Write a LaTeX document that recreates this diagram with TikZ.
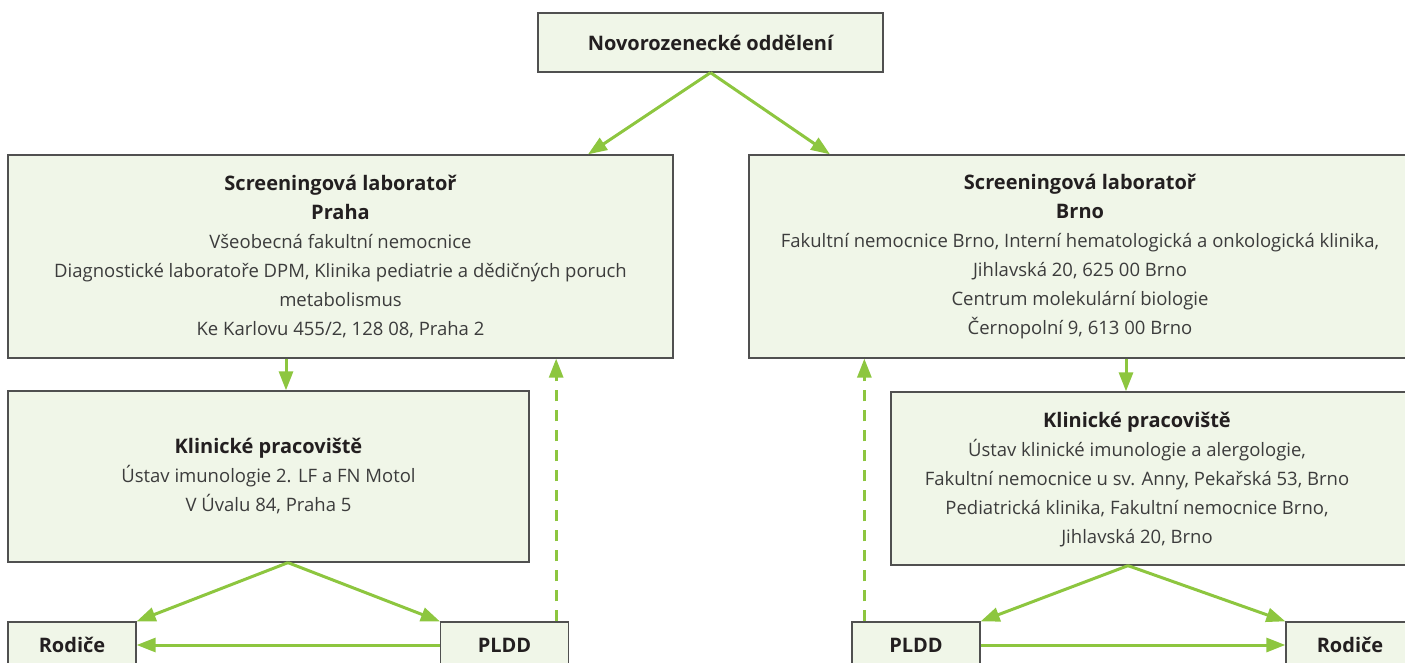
\documentclass[tikz,border=0pt]{standalone}
\usepackage{fontspec}
\setmainfont{Open Sans}
\usetikzlibrary{arrows.meta}
\definecolor{boxfill}{RGB}{240,246,232}
\definecolor{boxline}{RGB}{80,80,80}
\definecolor{arrgreen}{RGB}{141,198,63}
\definecolor{txtdark}{RGB}{35,31,32}
\definecolor{txtlight}{RGB}{60,60,60}
\newcommand\hdtxt[1]{{\fontsize{20}{29}\selectfont\bfseries\color{txtdark}#1}}
\begin{document}
\begin{tikzpicture}[x=1pt,y=-1pt,
  box/.style={draw=boxline,line width=1.3pt,fill=boxfill,inner sep=0pt,align=center,text=txtlight,font=\fontsize{18.5}{29}\selectfont},
  txtbox/.style={inner sep=0pt,align=center,text=txtlight,font=\fontsize{18.5}{29}\selectfont},
  smallbox/.style={box,minimum width=128pt,minimum height=46pt},
  arr/.style={draw=arrgreen,line width=3pt,-{Triangle[length=19pt,width=14pt]}},
  darr/.style={arr,dash pattern=on 11pt off 9pt},
]
\useasboundingbox (0,0) rectangle (1405,663);
\clip (0,0) rectangle (1405,663);

\node[box,minimum width=345pt,minimum height=59pt] (top) at (710.5,42.5) {\hdtxt{Novorozenecké oddělení}};

\node[box,minimum width=665pt,minimum height=203pt] (sl) at (340.5,256.5)
 {\hdtxt{Screeningová laboratoř}\\\hdtxt{Praha}\\Všeobecná fakultní nemocnice\\Diagnostické laboratoře DPM, Klinika pediatrie a dědičných poruch\\metabolismus\\Ke Karlovu 455/2, 128 08, Praha 2};

\node[box,minimum width=662pt,minimum height=203pt] (sr) at (1080,256.5)
 {\hdtxt{Screeningová laboratoř}\\\hdtxt{Brno}\\Fakultní nemocnice Brno, Interní hematologická a onkologická klinika,\\Jihlavská 20, 625 00 Brno\\Centrum molekulární biologie\\Černopolní 9, 613 00 Brno};

\node[box,minimum width=521pt,minimum height=171pt] (kl) at (268.5,476.5)
 {\hdtxt{Klinické pracoviště}\\Ústav imunologie 2. LF a FN Motol\\V Úvalu 84, Praha 5};

\node[box,minimum width=529pt,minimum height=173pt] (kr) at (1155.5,478.5) {};
\node[txtbox] (krt) at (1137,480)
 {\hdtxt{Klinické pracoviště}\\Ústav klinické imunologie a alergologie,\\Fakultní nemocnice u sv. Anny, Pekařská 53, Brno\\Pediatrická klinika, Fakultní nemocnice Brno,\\Jihlavská 20, Brno};

\node[smallbox] (rl) at (72,645) {\hdtxt{Rodiče}};
\node[smallbox] (pl) at (504.5,645) {\hdtxt{PLDD}};
\node[smallbox] (pr) at (916,645) {\hdtxt{PLDD}};
\node[smallbox] (rr) at (1350,645) {\hdtxt{Rodiče}};

\draw[arr] (top.south) -- ([xshift=247.5pt]sl.north);
\draw[arr] (top.south) -- ([xshift=-250pt]sr.north);
\draw[arr] ([xshift=-54.5pt]sl.south) -- ([xshift=-54.5pt]sl.south |- kl.north);
\draw[arr] ([xshift=19.5pt]kl.south) -- (rl.north east);
\draw[arr] ([xshift=19.5pt]kl.south) -- (pl.north west);
\draw[arr] (pl.west) -- (rl.east);
\draw[darr] ([xshift=-13pt]pl.north east) -- ([xshift=-13pt]pl.north east |- sl.south);
\draw[arr] ([xshift=46pt]sr.south) -- ([xshift=46pt]sr.south |- kr.north);
\draw[arr] ([xshift=-27.5pt]kr.south) -- (pr.north east);
\draw[arr] ([xshift=-27.5pt]kr.south) -- (rr.north west);
\draw[arr] (pr.east) -- (rr.west);
\draw[darr] ([xshift=13pt]pr.north west) -- ([xshift=13pt]pr.north west |- sr.south);
\end{tikzpicture}
\end{document}
